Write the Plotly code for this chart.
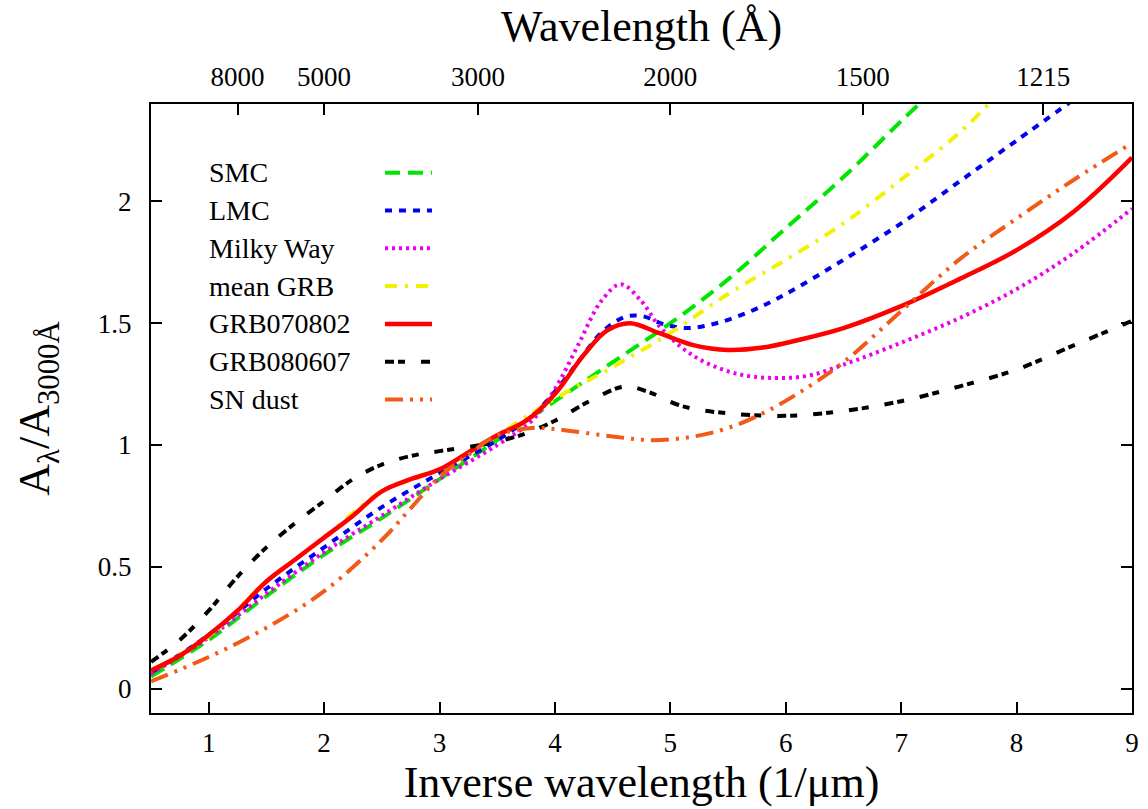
import plotly.graph_objects as go

# ---------------- data ----------------
smc_x = [0.5, 1.0, 1.5, 2.0, 2.5, 3.0, 3.5, 4.0, 4.5, 5.0, 5.5, 6.0, 6.5, 7.0, 7.2]
smc_y = [0.05, 0.20, 0.38, 0.55, 0.70, 0.86, 1.02, 1.18, 1.34, 1.50, 1.68, 1.89, 2.10, 2.33, 2.42]

lmc_x = [0.5, 1.0, 1.5, 2.0, 2.5, 3.0, 3.5, 3.8, 4.0, 4.2, 4.4, 4.6, 4.75, 4.95, 5.15, 5.4, 5.7, 6.0, 6.5, 7.0, 7.5, 8.0, 8.5]
lmc_y = [0.066, 0.22, 0.41, 0.58, 0.745, 0.885, 1.02, 1.12, 1.22, 1.34, 1.46, 1.525, 1.53, 1.495, 1.48, 1.50, 1.55, 1.62, 1.76, 1.91, 2.08, 2.25, 2.42]

mw_x = [0.5, 1.0, 1.5, 2.0, 2.5, 3.0, 3.5, 3.8, 4.0, 4.2, 4.4, 4.57, 4.75, 4.9, 5.1, 5.3, 5.6, 5.9, 6.2, 6.5, 7.0, 7.5, 8.0, 8.5, 9.0]
mw_y = [0.06, 0.21, 0.39, 0.56, 0.71, 0.86, 1.00, 1.10, 1.23, 1.41, 1.59, 1.66, 1.59, 1.49, 1.40, 1.34, 1.29, 1.275, 1.285, 1.33, 1.42, 1.52, 1.64, 1.79, 1.97]

grb_x = [0.5, 1.0, 1.5, 2.0, 2.5, 3.0, 3.5, 4.0, 4.5, 5.0, 5.5, 6.0, 6.5, 7.0, 7.5, 7.8]
grb_y = [0.075, 0.215, 0.44, 0.62, 0.81, 0.90, 1.04, 1.19, 1.32, 1.46, 1.62, 1.76, 1.91, 2.09, 2.28, 2.42]

g0802_x = [0.5, 0.75, 1.0, 1.25, 1.5, 1.75, 2.0, 2.25, 2.5, 2.75, 3.0, 3.25, 3.5, 3.75, 4.0, 4.25, 4.45, 4.65, 4.9, 5.2, 5.5, 5.8, 6.1, 6.5, 7.0, 7.5, 8.0, 8.5, 9.0]
g0802_y = [0.075, 0.135, 0.22, 0.32, 0.44, 0.53, 0.62, 0.71, 0.81, 0.86, 0.90, 0.97, 1.04, 1.10, 1.21, 1.37, 1.47, 1.50, 1.46, 1.41, 1.39, 1.40, 1.43, 1.48, 1.57, 1.68, 1.80, 1.96, 2.18]

g0607_x = [0.5, 0.75, 1.0, 1.25, 1.5, 1.75, 2.0, 2.25, 2.5, 2.75, 3.0, 3.35, 3.7, 4.0, 4.3, 4.6, 4.8, 5.1, 5.5, 6.0, 6.5, 7.0, 7.5, 8.0, 8.5, 9.0]
g0607_y = [0.11, 0.20, 0.32, 0.46, 0.58, 0.68, 0.77, 0.86, 0.92, 0.955, 0.975, 1.00, 1.04, 1.10, 1.18, 1.24, 1.22, 1.16, 1.13, 1.12, 1.14, 1.18, 1.24, 1.31, 1.41, 1.51]

sn_x = [0.5, 1.0, 1.5, 2.0, 2.5, 2.75, 3.0, 3.25, 3.5, 3.8, 4.1, 4.5, 4.85, 5.2, 5.5, 5.8, 6.1, 6.5, 7.0, 7.5, 8.0, 8.5, 9.0]
sn_y = [0.03, 0.13, 0.25, 0.40, 0.61, 0.74, 0.87, 0.96, 1.04, 1.07, 1.06, 1.035, 1.02, 1.035, 1.07, 1.13, 1.21, 1.34, 1.55, 1.76, 1.93, 2.09, 2.24]

names = ["SMC", "LMC", "Milky Way", "mean GRB", "GRB070802", "GRB080607", "SN dust"]

x_ticks = [1, 2, 3, 4, 5, 6, 7, 8, 9]
y_ticks = [0, 0.5, 1, 1.5, 2]
y_tick_text = ["0", "0.5", "1", "1.5", "2"]
wl_ticks = [8000, 5000, 3000, 2000, 1500, 1215]  # Angstrom

# ---------------- styles ----------------
series = [
    (smc_x, smc_y, "#00e600", "15px,8px", 4),
    (lmc_x, lmc_y, "#0000ee", "7px,7px", 4),
    (mw_x, mw_y, "#ee00ee", "3px,4px", 4),
    (grb_x, grb_y, "#f2f200", "12px,8px,3px,8px", 4),
    (g0802_x, g0802_y, "#ff0000", "solid", 4.5),
    (g0607_x, g0607_y, "#000000", "9px,4px,7px,16px", 4),
    (sn_x, sn_y, "#f25a18", "18px,7px,3px,7px,3px,7px", 4),
]

FONT = "Liberation Serif, Times New Roman, serif"
TICKFONT = dict(family=FONT, size=27, color="black")
fig = go.Figure()

for (xs, ys, col, dash, w), nm in zip(series, names):
    fig.add_trace(go.Scatter(
        x=xs, y=ys, mode="lines", name=nm, showlegend=False,
        line=dict(color=col, dash=dash, width=w, shape="spline", smoothing=1.0),
        hoverinfo="skip"))

# dummy trace to attach the top (wavelength) axis
fig.add_trace(go.Scatter(x=[], y=[], xaxis="x2", yaxis="y", showlegend=False))

# custom legend: text on left, sample line on right
row0 = 172.7
dy = 37.8
H = 609.0
for i, ((xs, ys, col, dash, w), nm) in enumerate(zip(series, names)):
    py = row0 + i * dy
    yp = (713 - py) / H
    fig.add_annotation(x=(207 - 151) / 981, y=yp, xref="paper", yref="paper",
                       text=nm, showarrow=False, xanchor="left", yanchor="middle",
                       font=dict(family=FONT, size=28, color="black"))
    fig.add_shape(type="line", xref="paper", yref="paper",
                  x0=(385 - 151) / 981, x1=(432 - 151) / 981, y0=yp, y1=yp,
                  line=dict(color=col, dash=dash, width=w))

AX = dict(ticks="inside", ticklen=11, tickwidth=2, tickcolor="black",
          showline=True, linecolor="black", linewidth=2, showgrid=False,
          zeroline=False, automargin=False, tickfont=TICKFONT, layer="above traces")

fig.update_layout(
    width=1148, height=809,
    margin=dict(l=151, r=16, t=104, b=96),
    paper_bgcolor="white", plot_bgcolor="rgba(0,0,0,0)",
    font=dict(family=FONT, size=27, color="black"),
    xaxis=dict(range=[0.5, 9], tickvals=x_ticks, mirror=False, ticklabelstandoff=5,
               title=dict(text="Inverse wavelength (1/μm)", font=dict(family=FONT, size=44), standoff=9),
               **AX),
    xaxis2=dict(overlaying="x", side="top", range=[0.5, 9],
                tickvals=[1e4 / w for w in wl_ticks], ticktext=[str(w) for w in wl_ticks],
                ticklabelstandoff=5,
                title=dict(text="Wavelength (Å)", font=dict(family=FONT, size=44), standoff=7),
                **AX),
    yaxis=dict(range=[-0.1, 2.4], tickvals=y_ticks, ticktext=y_tick_text, mirror="ticks",
               ticklabelstandoff=12,
               title=dict(text="A<sub>λ</sub>/A<sub>3000Å</sub>", font=dict(family=FONT, size=44), standoff=34),
               **AX),
)

fig.write_html("out.html")
